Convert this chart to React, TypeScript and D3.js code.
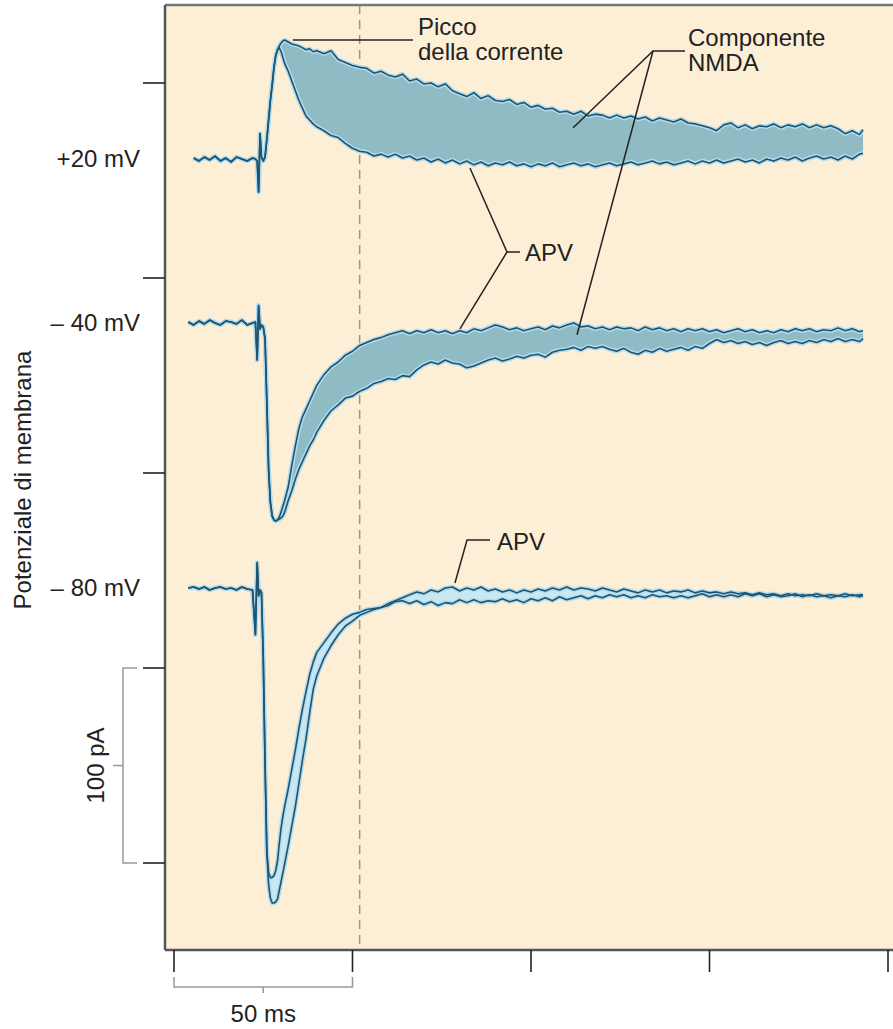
import React from "react";
import * as d3 from "d3";

// sample times (ms) shared by all traces
const timeMs = [
  4, 5.5, 7, 8.5, 10, 11.5, 13, 14.5, 16, 17.5, 19, 20.5, 22,
  22.8, 23.3, 23.7, 24.1, 24.5, 25, 25.5, 26, 26.5, 27, 27.5, 28, 28.5, 29, 29.5, 30, 30.5, 31,
  32, 33, 34, 35, 36, 37, 38, 39, 40,
  42, 44, 46, 48, 50, 52, 54, 56, 58, 60,
  62, 64, 66, 68, 70, 72, 74, 76, 78, 80,
  82, 84, 86, 88, 90, 92, 94, 96, 98, 100,
  102, 104, 106, 108, 110, 112, 114, 116, 118, 120,
  122, 124, 126, 128, 130, 132, 134, 136, 138, 140,
  142, 144, 146, 148, 150, 152, 154, 156, 158, 160,
  162, 164, 166, 168, 170, 172, 174, 176, 178, 180,
  182, 184, 186, 188, 190, 192, 193,
];

// currents in pA (outward positive)
const ctrlPlus20 = [
  null, 0.5, -1, 1, -0.5, 1.5, -1, 0.5, -1.5, 1, 0, -1, 0.5,
  0, -1, -17, 13, 1, -1, 1, 10, 20, 30, 38, 47, 53, 56, 58, 59.5, 60.5, 61,
  60, 59, 58.5, 58, 57, 56, 56.5, 55, 55.5,
  54, 55.5, 51, 49.5, 48, 47, 46.5, 44, 45, 43,
  42, 43.5, 40, 41, 38.5, 39, 37, 38.5, 35, 33.5,
  32, 34, 31, 32.5, 30, 29.5, 30.5, 28, 29, 26.5,
  27.5, 25.5, 26, 24, 24.5, 23, 24.5, 22, 23, 22.5,
  21, 22.5, 21, 22, 20.5, 21.5, 19.5, 21, 20, 19,
  20.5, 18.5, 18, 17, 16, 14.5, 17.5, 18.5, 16, 17.5,
  15.5, 17, 16.5, 18, 16, 17.5, 16.5, 18, 16, 17.5,
  16, 17, 15.5, 13, 14.5, 12.5, 15,
];
const apvPlus20 = [
  null, 0.5, -1, 1, -0.5, 1.5, -1, 0.5, -1.5, 1, 0, -1, 0.5,
  0, -1, -17, 13, 1, -1, 1, 10, 20, 30, 38, 47, 53, 56, 57, 55, 52, 49,
  45, 40, 35, 30, 26, 22, 20, 18, 16.5,
  14.5, 12, 11, 8, 5.5, 4, 3.5, 1.5, 2.5, 1,
  2.5, 0.5, 1.5, -0.5, 0.5, -1.5, 0, -2, -0.5, -2.5,
  -1, -3, -1.5, -3.5, -2, -3, -1.5, -3.5, -2.5, -4,
  -2.5, -3.5, -2, -4, -3, -2, -3.5, -2.5, -4, -3,
  -2, -3.5, -2.5, -1.5, -3, -2, -1, -2.5, -1.5, -3,
  -2, -1, -2.5, -1, -2, -0.5, -2, -1, 0, -1.5,
  -0.5, -2, 0, -1, 0.5, -0.5, 1, -1, 0.5, 1.5,
  0, 1, -0.5, 1.5, 0, 2.5, 3,
];
const ctrlMinus40 = [
  0.5, -1, 1, -0.5, 1.5, 0, -1, 1, 0.5, -0.5, 1.5, -1, 0,
  0.5, -19, 9, -3, -1, -2, -8, -40, -75, -92, -99, -101, -101.5, -101, -100.5, -100, -99, -97,
  -91, -86, -80, -75, -71, -67, -63, -60, -56,
  -50, -45, -42, -38.5, -37.5, -35, -33.5, -31, -30, -28.5,
  -29, -27, -27.5, -24, -21.5, -20, -21, -19, -20.5, -21,
  -23, -22, -20.5, -19, -18, -19.5, -18.5, -17, -18, -16.5,
  -16, -17.5, -15, -14, -13.5, -12.5, -14, -12, -13, -12,
  -13.5, -14.5, -13, -15, -16, -14, -15, -13, -14.5, -13.5,
  -12.5, -14, -12, -13, -10.5, -8.5, -10, -9, -10.5, -9.5,
  -11, -10, -11.5, -10, -9, -10.5, -9.5, -10.5, -9, -10,
  -8.5, -9.5, -8, -9.5, -8.5, -9.5, -8,
];
const apvMinus40 = [
  0.5, -1, 1, -0.5, 1.5, 0, -1, 1, 0.5, -0.5, 1.5, -1, 0,
  0.5, -19, 9, -3, -1, -2, -8, -40, -75, -92, -99, -101, -101.5, -101, -99.5, -97, -94, -91,
  -84, -73, -63, -54, -48, -44, -40, -36, -32,
  -26.5, -22.5, -20, -16.5, -14.5, -11.5, -10, -8.5, -7.5, -6,
  -5, -4, -5.5, -4, -5, -3.5, -5, -4, -5.5, -4,
  -5, -3, -4, -2.5, -1, -2, -3.5, -2.5, -4, -3,
  -2, -3.5, -1.5, -2.5, -1, 0, -2, -1.5, -3, -2,
  -3.5, -2, -3, -2.5, -4, -2, -3.5, -2.5, -4, -3,
  -4.5, -3, -4, -3, -4.5, -3.5, -5, -4, -3, -4.5,
  -3.5, -5, -4, -5, -3.5, -4.5, -3, -4, -3, -4.5,
  -3.5, -4, -2.5, -4, -3, -4.5, -4,
];
const ctrlMinus80 = [
  0, 0.5, -0.5, 0.5, -1, 0, 0.5, -0.5, 0, -1, 0.5, -0.5, -1,
  -24, 13, -4, -1, -2.5, -35, -90, -135, -152, -159, -161.5, -161.5, -161, -159.5, -155, -150.5, -146, -141.5,
  -132, -122, -112, -100, -88, -77, -64, -52, -45,
  -36, -29.5, -24, -19.5, -17, -14, -12.5, -11, -10, -9,
  -7, -6.5, -8, -6.5, -8.5, -7, -9, -7.5, -8, -6,
  -7.5, -6, -7.5, -6.5, -7, -5.5, -7, -6, -7.5, -5.5,
  -6.5, -5, -6.5, -4.5, -6, -5, -4, -5.5, -4, -5,
  -3.5, -4.5, -3.5, -5, -4, -5, -3.5, -4.5, -4, -5,
  -4, -5, -4, -3, -4.5, -3.5, -4.5, -3.5, -4.5, -3,
  -4, -3, -4.5, -3.5, -4.5, -4, -3, -4.5, -3.5, -4.5,
  -4, -5, -4, -4.5, -3.5, -4.5, -4,
];
const apvMinus80 = [
  0, 0.5, -0.5, 0.5, -1, 0, 0.5, -0.5, 0, -1, 0.5, -0.5, -1,
  -24, 13, -4, -1, -2.5, -35, -90, -135, -146, -148.5, -148.5, -147.5, -145, -140, -131, -123, -117, -112,
  -103, -93, -83, -72, -62, -53, -44.5, -38, -33,
  -28, -23, -18.5, -15.5, -13.5, -12.5, -11, -10.5, -10, -8,
  -6.5, -5, -3.5, -2, -3, -1, -2, 0, 0.5, -1.5,
  0, -1, 0.5, -1.5, -0.5, -2, -1, -2.5, -1, -2,
  -0.5, -1.5, 0, -1, 0.5, -1, 0, -0.5, -1.5, 0,
  -1, -2, -0.5, -1.5, -2.5, -1, -2, -1, -2.5, -1.5,
  -2, -1, -2.5, -1.5, -2.5, -2, -3, -2, -3, -2.5,
  -3.5, -2.5, -3.5, -3, -4, -3, -4, -3.5, -4, -3,
  -4, -3.5, -4, -3, -4, -3.5, -3.5,
];

const W = 893;
const H = 1029;
const FONT = "'Liberation Sans', Arial, Helvetica, sans-serif";
const INK = "#222";
const LINE = "#1d5470";
const HALO = "#b3dbec";

const panel = { left: 165, top: 5, bottom: 950 };
const x = d3.scaleLinear().domain([0, 200]).range([174, 888]);
const frameY = d3.scaleLinear().domain([0, 400]).range([863, 83]);
const pxPer100 = frameY(0) - frameY(100);
const peakMarkerMs = 52;

const rows = [
  { label: "+20 mV", base: 159, ctrl: ctrlPlus20, apv: apvPlus20, band: "#8fbbc5" },
  { label: "\u2013 40 mV", base: 323, ctrl: ctrlMinus40, apv: apvMinus40, band: "#8fbbc5" },
  { label: "\u2013 80 mV", base: 588, ctrl: ctrlMinus80, apv: apvMinus80, band: "#c9e8f2" },
];

const rowScale = (base: number) =>
  d3.scaleLinear().domain([0, 100]).range([base, base - pxPer100]);

function Row({ row }: { row: (typeof rows)[number] }) {
  const y = rowScale(row.base);
  const idx = timeMs.map((_, i) => i);
  const line = (vals: (number | null)[]) =>
    d3
      .line<number>()
      .defined((i) => vals[i] != null)
      .x((i) => x(timeMs[i]))
      .y((i) => y(vals[i] as number))(idx) || "";
  const area = d3
    .area<number>()
    .defined((i) => row.ctrl[i] != null && row.apv[i] != null)
    .x((i) => x(timeMs[i]))
    .y0((i) => y(row.apv[i] as number))
    .y1((i) => y(row.ctrl[i] as number))(idx) || "";
  return (
    <g>
      <path d={area} fill={row.band} />
      <path d={line(row.apv)} fill="none" stroke={HALO} strokeWidth={4.5} strokeLinejoin="round" />
      <path d={line(row.ctrl)} fill="none" stroke={HALO} strokeWidth={4.5} strokeLinejoin="round" />
      <path d={line(row.apv)} fill="none" stroke={LINE} strokeWidth={1.6} strokeLinejoin="round" />
      <path d={line(row.ctrl)} fill="none" stroke={LINE} strokeWidth={1.6} strokeLinejoin="round" />
    </g>
  );
}

export default function App() {
  const y20 = rowScale(rows[0].base);
  const y40 = rowScale(rows[1].base);
  const y80 = rowScale(rows[2].base);
  const txt = { fontFamily: FONT, fontSize: 24, fill: INK } as const;
  const barColor = "#999";

  return (
    <>
      <style>{`body{margin:0}`}</style>
      <svg width={W} height={H} style={{ display: "block", background: "#fff" }}>
        <rect
          x={panel.left}
          y={panel.top}
          width={W - panel.left}
          height={panel.bottom - panel.top}
          fill="#fdeed6"
        />
        {/* dashed marker at peak */}
        <line
          x1={x(peakMarkerMs)}
          x2={x(peakMarkerMs)}
          y1={panel.top}
          y2={panel.bottom}
          stroke="#a39282"
          strokeWidth={1.5}
          strokeDasharray="9,6"
        />
        {rows.map((r) => (
          <Row key={r.label} row={r} />
        ))}

        {/* frame */}
        <line x1={panel.left} x2={W} y1={panel.top} y2={panel.top} stroke="#777" strokeWidth={2.5} />
        <line x1={panel.left} x2={panel.left} y1={panel.top} y2={panel.bottom} stroke="#555" strokeWidth={2.5} />
        <line x1={panel.left} x2={W} y1={panel.bottom} y2={panel.bottom} stroke="#555" strokeWidth={2.5} />
        {frameY.ticks(4).map((v) => (
          <line key={v} x1={143} x2={panel.left} y1={frameY(v)} y2={frameY(v)} stroke={INK} strokeWidth={1.6} />
        ))}
        {x.ticks(4).map((v) => (
          <line key={v} x1={x(v)} x2={x(v)} y1={panel.bottom} y2={972} stroke={INK} strokeWidth={1.6} />
        ))}

        {/* row labels */}
        {rows.map((r) => (
          <text key={r.label} x={140} y={r.base + 8} textAnchor="end" {...txt}>
            {r.label}
          </text>
        ))}
        <text transform="translate(31,480) rotate(-90)" textAnchor="middle" {...txt}>
          Potenziale di membrana
        </text>

        {/* 100 pA scale bar */}
        <g stroke={barColor} strokeWidth={1.5} fill="none">
          <path d={`M137,${frameY(100)}H123V${frameY(0)}H137`} />
          <line x1={113} x2={123} y1={frameY(50)} y2={frameY(50)} />
        </g>
        <text transform={`translate(104,${frameY(50)}) rotate(-90)`} textAnchor="middle" {...txt}>
          100 pA
        </text>

        {/* 50 ms scale bar */}
        <g stroke={barColor} strokeWidth={1.5} fill="none">
          <path d={`M${x(0)},977V987H${x(50)}V977`} />
          <line x1={x(25)} x2={x(25)} y1={987} y2={993} />
        </g>
        <text x={x(25)} y={1022} textAnchor="middle" {...txt}>
          50 ms
        </text>

        {/* annotations */}
        <g stroke={INK} strokeWidth={1.5} fill="none">
          <line x1={x(33.3)} x2={413} y1={y20(61)} y2={y20(61)} />
          <polyline points={`${x(111.8)},${y20(16)} 653,51 685,51`} />
          <line x1={653} y1={51} x2={x(112.9)} y2={y40(-6)} />
          <polyline points={`${x(82.9)},${y20(-4.6)} 507,252 520,252`} />
          <line x1={507} y1={252} x2={x(80.1)} y2={y40(-3)} />
          <polyline points={`${x(78.7)},${y80(2.6)} 467,540 490,540`} />
        </g>
        <text x={418} y={35} {...txt}>Picco</text>
        <text x={418} y={60} {...txt}>della corrente</text>
        <text x={688} y={46} {...txt}>Componente</text>
        <text x={688} y={71} {...txt}>NMDA</text>
        <text x={525} y={261} {...txt}>APV</text>
        <text x={497} y={550} {...txt}>APV</text>
      </svg>
    </>
  );
}
